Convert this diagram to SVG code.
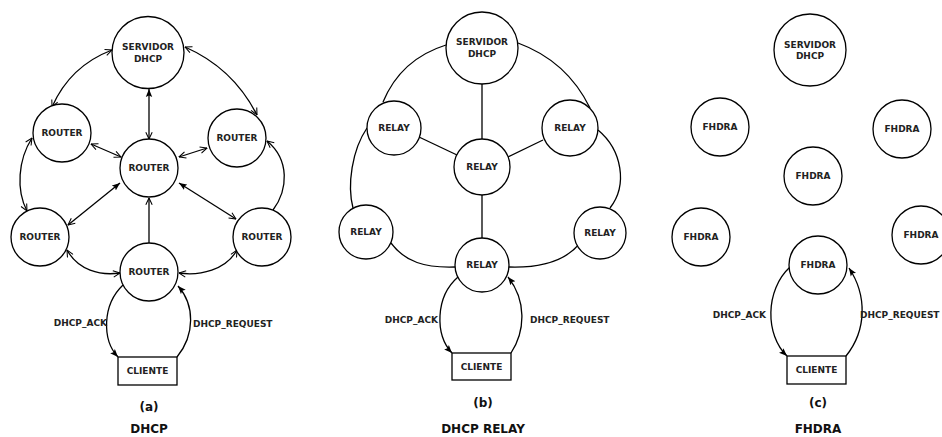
<svg xmlns="http://www.w3.org/2000/svg" width="942" height="437" viewBox="0 0 942 437">
<style>
.n{fill:#fff;stroke:#000;stroke-width:1.3}
.t{font-family:"DejaVu Sans",sans-serif;font-weight:bold;font-size:9px;text-anchor:middle;fill:#222}
.l{font-family:"DejaVu Sans",sans-serif;font-weight:bold;font-size:9px;fill:#222}
.h{font-family:"DejaVu Sans",sans-serif;font-weight:bold;font-size:12px;text-anchor:middle;fill:#111}
.c path{fill:none;stroke:#000;stroke-width:1.3}
.bo{marker-start:url(#op);marker-end:url(#op)}
.eo{marker-end:url(#op)}
.ef{marker-end:url(#fi)}
.fo{marker-start:url(#fi);marker-end:url(#op)}
</style>
<defs>
<marker id="op" viewBox="0 0 10 10" refX="9.5" refY="5" markerWidth="8" markerHeight="8" markerUnits="userSpaceOnUse" orient="auto-start-reverse"><path d="M1,1 L9.5,5 L1,9" fill="none" stroke="#000" stroke-width="1.3"/></marker>
<marker id="fi" viewBox="0 0 10 10" refX="10" refY="5" markerWidth="8" markerHeight="8" markerUnits="userSpaceOnUse" orient="auto-start-reverse"><path d="M0,1 L10,5 L0,9 L2,5 Z" fill="#000"/></marker>
</defs>
<rect width="942" height="437" fill="#fff"/>

<g id="connectors" class="c">
<!-- (a) -->
<path class="bo" d="M112,50 Q70,66 52,107"/>
<path class="bo" d="M185,47 Q233,68 257,115"/>
<path class="bo" d="M32,138 C18,160 16,190 27,211"/>
<path class="eo" d="M273,210 C288,190 290,160 267,141"/>
<path class="bo" d="M91,144 L121,157"/>
<path class="bo" d="M207,148 L179,157"/>
<path class="fo" d="M149,89 L149,139"/>
<path class="fo" d="M120,183 L68,225"/>
<path class="fo" d="M179,183 L236,219"/>
<path class="eo" d="M149,243 L149,198"/>
<path class="bo" d="M67,250 C78,270 100,276 120,273"/>
<path class="bo" d="M237,250 C226,270 200,276 179,273"/>
<path class="ef" d="M123,285 C102,305 102,340 118,357"/>
<path class="ef" d="M177,357 C195,335 195,305 178,286"/>
<!-- (b) -->
<path d="M446,45 Q401,59 383,102"/>
<path d="M518,43 Q567,61 590,108"/>
<path d="M367,128 C352,150 347,185 353,208"/>
<path d="M598,130 C622,150 628,185 610,208"/>
<path d="M391,243 C405,262 425,268 455,267"/>
<path d="M580,243 C565,262 540,268 509,267"/>
<path d="M482,84 L482,139"/>
<path d="M482,195 L482,238"/>
<path d="M419,137 L457,155"/>
<path d="M543,140 L508,157"/>
<path class="ef" d="M458,277 C435,297 435,335 452,353"/>
<path class="ef" d="M511,353 C526,330 526,300 508,277"/>
<!-- (c) -->
<path class="ef" d="M790,267 C765,290 765,335 787,356"/>
<path class="ef" d="M846,356 C867,330 867,295 849,268"/>
</g>

<g id="a_server"><circle class="n" cx="148" cy="52.5" r="36"/><text class="t" x="148" y="50">SERVIDOR</text><text class="t" x="148" y="62">DHCP</text></g>
<g id="a_router_lt"><circle class="n" cx="62" cy="133" r="29"/><text class="t" x="62" y="136">ROUTER</text></g>
<g id="a_router_c"><circle class="n" cx="149" cy="168" r="29"/><text class="t" x="149" y="171">ROUTER</text></g>
<g id="a_router_rt"><circle class="n" cx="237" cy="138" r="29"/><text class="t" x="237" y="141">ROUTER</text></g>
<g id="a_router_lb"><circle class="n" cx="40" cy="237" r="29"/><text class="t" x="40" y="240">ROUTER</text></g>
<g id="a_router_rb"><circle class="n" cx="262" cy="237" r="29"/><text class="t" x="262" y="240">ROUTER</text></g>
<g id="a_router_b"><circle class="n" cx="149" cy="272" r="29"/><text class="t" x="149" y="275">ROUTER</text></g>
<g id="a_cliente"><rect class="n" x="118" y="357" width="59" height="28"/><text class="t" x="147.5" y="374">CLIENTE</text></g>
<g id="a_labels"><text class="l" x="107" y="326" text-anchor="end">DHCP_ACK</text><text class="l" x="193" y="327">DHCP_REQUEST</text></g>
<g id="a_title"><text class="h" x="149" y="411">(a)</text><text class="h" x="149" y="433">DHCP</text></g>

<g id="b_server"><circle class="n" cx="482" cy="48" r="36"/><text class="t" x="482" y="45">SERVIDOR</text><text class="t" x="482" y="57">DHCP</text></g>
<g id="b_relay_lt"><circle class="n" cx="394" cy="128" r="27"/><text class="t" x="394" y="131">RELAY</text></g>
<g id="b_relay_rt"><circle class="n" cx="570" cy="128" r="28"/><text class="t" x="570" y="131">RELAY</text></g>
<g id="b_relay_c"><circle class="n" cx="482" cy="167" r="28"/><text class="t" x="482" y="170">RELAY</text></g>
<g id="b_relay_lb"><circle class="n" cx="366" cy="232" r="27"/><text class="t" x="366" y="235">RELAY</text></g>
<g id="b_relay_rb"><circle class="n" cx="600" cy="233" r="26"/><text class="t" x="600" y="236">RELAY</text></g>
<g id="b_relay_b"><circle class="n" cx="482" cy="265" r="27"/><text class="t" x="482" y="268">RELAY</text></g>
<g id="b_cliente"><rect class="n" x="452" y="353" width="59" height="27"/><text class="t" x="481.5" y="369.5">CLIENTE</text></g>
<g id="b_labels"><text class="l" x="438" y="323" text-anchor="end">DHCP_ACK</text><text class="l" x="530" y="323">DHCP_REQUEST</text></g>
<g id="b_title"><text class="h" x="483" y="407">(b)</text><text class="h" x="483" y="433">DHCP RELAY</text></g>

<g id="c_server"><circle class="n" cx="810" cy="50" r="36"/><text class="t" x="810" y="47.5">SERVIDOR</text><text class="t" x="810" y="59">DHCP</text></g>
<g id="c_fhdra_lt"><circle class="n" cx="720" cy="127" r="29"/><text class="t" x="720" y="130">FHDRA</text></g>
<g id="c_fhdra_rt"><circle class="n" cx="902" cy="129" r="29"/><text class="t" x="902" y="132">FHDRA</text></g>
<g id="c_fhdra_c"><circle class="n" cx="813" cy="176" r="29"/><text class="t" x="813" y="179">FHDRA</text></g>
<g id="c_fhdra_lb"><circle class="n" cx="701" cy="237" r="29"/><text class="t" x="701" y="240">FHDRA</text></g>
<g id="c_fhdra_rb"><circle class="n" cx="921" cy="235" r="29"/><text class="t" x="921" y="238">FHDRA</text></g>
<g id="c_fhdra_b"><circle class="n" cx="818" cy="265" r="29"/><text class="t" x="818" y="268">FHDRA</text></g>
<g id="c_cliente"><rect class="n" x="787" y="356" width="59" height="28"/><text class="t" x="816.5" y="373">CLIENTE</text></g>
<g id="c_labels"><text class="l" x="766" y="318" text-anchor="end">DHCP_ACK</text><text class="l" x="860" y="318">DHCP_REQUEST</text></g>
<g id="c_title"><text class="h" x="818" y="407">(c)</text><text class="h" x="818" y="433">FHDRA</text></g>
</svg>
